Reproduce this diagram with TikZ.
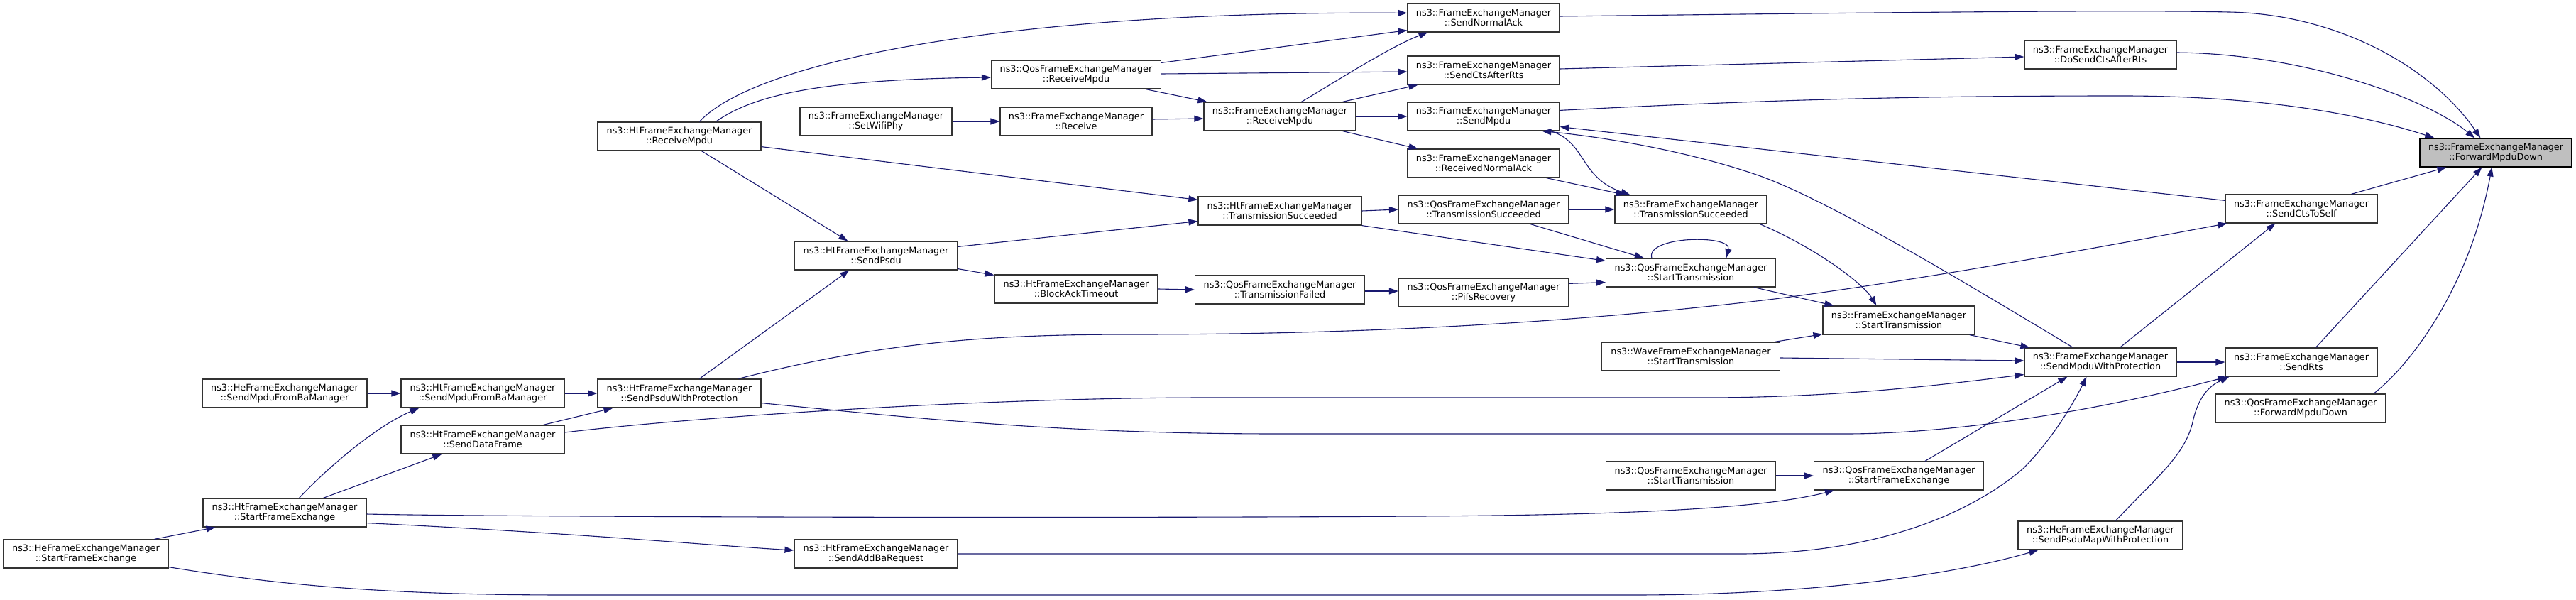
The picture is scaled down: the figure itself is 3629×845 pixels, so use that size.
\documentclass[tikz,border=0pt]{standalone}
\usepackage{fontspec}
\setmainfont{DejaVu Sans}
\usetikzlibrary{arrows.meta,calc}
\definecolor{midnightblue}{RGB}{25,25,112}
\definecolor{rootgray}{RGB}{191,191,191}
\begin{document}
\begin{tikzpicture}[x=1pt,y=-1pt,
  box/.style={draw=black!80, fill=white, line width=1.2pt, align=center, inner sep=0pt,
    minimum height=40pt, font=\fontsize{12.8}{14}\selectfont},
  edge/.style={draw=midnightblue, line width=1.1pt, -{Triangle[length=13pt,width=9pt]}}]
\fill[white] (0,0) rectangle (3629,845);
\useasboundingbox (0,0) rectangle (3629,845);
% nodes
\node[box, minimum width=214pt, fill=rootgray, draw=black] (fmd) at (3516,215) {ns3::FrameExchangeManager\\::ForwardMpduDown};
\node[box, minimum width=214pt] (sendctstoself) at (3242,294) {ns3::FrameExchangeManager\\::SendCtsToSelf};
\node[box, minimum width=214pt] (sendrts) at (3242,510) {ns3::FrameExchangeManager\\::SendRts};
\node[box, minimum width=239pt] (qosfwd) at (3241,575) {ns3::QosFrameExchangeManager\\::ForwardMpduDown};
\node[box, minimum width=214pt] (dosendcts) at (2959,77) {ns3::FrameExchangeManager\\::DoSendCtsAfterRts};
\node[box, minimum width=214pt] (smwp) at (2959,510) {ns3::FrameExchangeManager\\::SendMpduWithProtection};
\node[box, minimum width=232pt] (hepsdumap) at (2959,754) {ns3::HeFrameExchangeManager\\::SendPsduMapWithProtection};
\node[box, minimum width=214pt] (femstart) at (2675,451) {ns3::FrameExchangeManager\\::StartTransmission};
\node[box, minimum width=239pt] (qossfe) at (2675,670) {ns3::QosFrameExchangeManager\\::StartFrameExchange};
\node[box, minimum width=214pt] (femts) at (2382,295) {ns3::FrameExchangeManager\\::TransmissionSucceeded};
\node[box, minimum width=239pt] (qosstart) at (2382,384) {ns3::QosFrameExchangeManager\\::StartTransmission};
\node[box, minimum width=251pt] (wave) at (2382,502) {ns3::WaveFrameExchangeManager\\::StartTransmission};
\node[box, minimum width=239pt] (qosstart2) at (2382,670) {ns3::QosFrameExchangeManager\\::StartTransmission};
\node[box, minimum width=214pt] (sendnormalack) at (2090,25) {ns3::FrameExchangeManager\\::SendNormalAck};
\node[box, minimum width=214pt] (sendctsafterrts) at (2090,99) {ns3::FrameExchangeManager\\::SendCtsAfterRts};
\node[box, minimum width=214pt] (sendmpdu) at (2090,164) {ns3::FrameExchangeManager\\::SendMpdu};
\node[box, minimum width=214pt] (receivednormalack) at (2090,230) {ns3::FrameExchangeManager\\::ReceivedNormalAck};
\node[box, minimum width=239pt] (qosts) at (2090,295) {ns3::QosFrameExchangeManager\\::TransmissionSucceeded};
\node[box, minimum width=239pt] (qospifs) at (2090,412) {ns3::QosFrameExchangeManager\\::PifsRecovery};
\node[box, minimum width=214pt] (femreceivempdu) at (1803,164) {ns3::FrameExchangeManager\\::ReceiveMpdu};
\node[box, minimum width=230pt] (htts) at (1803,297) {ns3::HtFrameExchangeManager\\::TransmissionSucceeded};
\node[box, minimum width=239pt] (qostf) at (1803,408) {ns3::QosFrameExchangeManager\\::TransmissionFailed};
\node[box, minimum width=239pt] (qosreceivempdu) at (1516,105) {ns3::QosFrameExchangeManager\\::ReceiveMpdu};
\node[box, minimum width=214pt] (femreceive) at (1516,171) {ns3::FrameExchangeManager\\::Receive};
\node[box, minimum width=230pt] (htblockack) at (1516,407) {ns3::HtFrameExchangeManager\\::BlockAckTimeout};
\node[box, minimum width=214pt] (setwifiphy) at (1234,171) {ns3::FrameExchangeManager\\::SetWifiPhy};
\node[box, minimum width=230pt] (htsendpsdu) at (1234,360) {ns3::HtFrameExchangeManager\\::SendPsdu};
\node[box, minimum width=230pt] (htaddba) at (1234,780) {ns3::HtFrameExchangeManager\\::SendAddBaRequest};
\node[box, minimum width=230pt] (htreceivempdu) at (957,192) {ns3::HtFrameExchangeManager\\::ReceiveMpdu};
\node[box, minimum width=230pt] (htspwp) at (957,554) {ns3::HtFrameExchangeManager\\::SendPsduWithProtection};
\node[box, minimum width=230pt] (htmpduba) at (680,554) {ns3::HtFrameExchangeManager\\::SendMpduFromBaManager};
\node[box, minimum width=230pt] (htdataframe) at (680,619) {ns3::HtFrameExchangeManager\\::SendDataFrame};
\node[box, minimum width=232pt] (hempduba) at (401,554) {ns3::HeFrameExchangeManager\\::SendMpduFromBaManager};
\node[box, minimum width=230pt] (htsfe) at (401,722) {ns3::HtFrameExchangeManager\\::StartFrameExchange};
\node[box, minimum width=232pt] (hesfe) at (121,780) {ns3::HeFrameExchangeManager\\::StartFrameExchange};
% edges into ForwardMpduDown
\draw[edge] ($(sendnormalack.east)+(0,-2)$) .. controls (2700,17) and (3000,14) .. (3140,17) .. controls (3300,20) and (3430,100) .. ($(fmd.north west)+(86,0)$);
\draw[edge] ($(dosendcts.east)+(0,-3)$) .. controls (3250,76) and (3420,140) .. ($(fmd.north west)+(78,0)$);
\draw[edge] ($(sendmpdu.north east)+(0,12)$) .. controls (2500,140) and (2700,135) .. (2990,135) .. controls (3200,135) and (3340,165) .. ($(fmd.north west)+(21,0)$);
\draw[edge] ($(sendctstoself.north west)+(178,0)$) -- ($(fmd.south west)+(38,0)$);
\draw[edge] ($(sendrts.north west)+(128,0)$) -- ($(fmd.south west)+(88,0)$);
\draw[edge] ($(qosfwd.north west)+(223,0)$) .. controls (3400,510) and (3480,400) .. ($(fmd.south west)+(102,0)$);
% other edges
\draw[edge] ($(sendctsafterrts.east)+(0,-2)$) -- ($(dosendcts.west)+(0,3)$);
\draw[edge] ($(qosreceivempdu.north east)+(0,4)$) -- ($(sendnormalack.south west)+(0,-3)$);
\draw[edge] ($(htreceivempdu.north west)+(144,0)$) .. controls (1060,90) and (1400,15) .. ($(sendnormalack.north west)+(0,14)$);
\draw[edge] ($(htreceivempdu.north west)+(167,0)$) .. controls (1060,135) and (1150,112) .. ($(qosreceivempdu.west)+(0,4)$);
\draw[edge] ($(qosreceivempdu.east)+(0,-1)$) -- ($(sendctsafterrts.west)+(0,2)$);
\draw[edge] ($(qosreceivempdu.south west)+(218,0)$) -- ($(femreceivempdu.north west)+(5,0)$);
\draw[edge] ($(femreceive.east)+(0,-3)$) -- ($(femreceivempdu.west)+(0,3)$);
\draw[edge] (setwifiphy.east) -- (femreceive.west);
\draw[edge] ($(femreceivempdu.north west)+(138,0)$) .. controls (1890,110) and (1960,65) .. ($(sendnormalack.south west)+(29,0)$);
\draw[edge] ($(femreceivempdu.north west)+(196,0)$) -- ($(sendctsafterrts.south west)+(15,0)$);
\draw[edge] (femreceivempdu.east) -- (sendmpdu.west);
\draw[edge] ($(femreceivempdu.south west)+(196,0)$) -- ($(receivednormalack.north west)+(15,0)$);
\draw[edge] ($(receivednormalack.south west)+(196,0)$) -- ($(femts.north west)+(15,0)$);
\draw[edge] ($(sendmpdu.south west)+(202,0)$) .. controls (2235,200) and (2225,250) .. ($(femts.north west)+(22,0)$);
\draw[edge] ($(smwp.north west)+(69,0)$) .. controls (2780,405) and (2580,284) .. (2480,248) .. controls (2380,213) and (2260,193) .. ($(sendmpdu.south west)+(190,0)$);
\draw[edge] ($(sendctstoself.north west)+(0,9)$) -- ($(sendmpdu.south east)+(0,-6)$);
\draw[edge] ($(femts.south west)+(205,0)$) .. controls (2560,350) and (2625,400) .. ($(femstart.north west)+(76,0)$);
\draw[edge] ($(qosstart.south west)+(209,0)$) -- ($(femstart.north west)+(16,0)$);
\draw[edge] ($(qosstart.north west)+(65,0)$) .. controls (2318,332) and (2440,330) .. ($(qosstart.north west)+(170,0)$);
\draw[edge] (qosts.east) -- (femts.west);
\draw[edge] ($(qosts.south west)+(186,0)$) -- ($(qosstart.north west)+(54,0)$);
\draw[edge] (htts.east) -- (qosts.west);
\draw[edge] (htts.south east) -- ($(qosstart.north west)+(0,4)$);
\draw[edge] ($(qospifs.north east)+(0,8)$) -- ($(qosstart.south west)+(0,-7)$);
\draw[edge] ($(qostf.east)+(0,2)$) -- ($(qospifs.west)+(0,-2)$);
\draw[edge] (htblockack.east) -- (qostf.west);
\draw[edge] ($(htsendpsdu.south east)+(0,-2)$) -- ($(htblockack.north west)+(0,1)$);
\draw[edge] ($(htsendpsdu.north east)+(0,8)$) -- ($(htts.south west)+(0,-6)$);
\draw[edge] ($(htreceivempdu.south east)+(0,-6)$) -- ($(htts.north west)+(0,5)$);
\draw[edge] ($(htreceivempdu.south west)+(147,0)$) -- ($(htsendpsdu.north west)+(76,0)$);
\draw[edge] ($(htspwp.north west)+(144,0)$) -- ($(htsendpsdu.south west)+(78,0)$);
\draw[edge] ($(htspwp.north west)+(199,0)$) .. controls (1250,480) and (1400,471) .. (1600,471) .. controls (2000,471) and (2300,445) .. (2500,421) .. controls (2700,395) and (2950,350) .. ($(sendctstoself.south west)+(3,0)$);
\draw[edge] ($(htspwp.south east)+(0,-7)$) .. controls (1300,590) and (1500,611) .. (1800,611) -- (2600,611) .. controls (2750,611) and (2950,580) .. ($(sendrts.south west)+(3,0)$);
\draw[edge] ($(htdataframe.east)+(0,-10)$) .. controls (1000,585) and (1400,560) .. (1700,560) -- (2400,560) .. controls (2600,560) and (2750,540) .. ($(smwp.south west)+(0,-3)$);
\draw[edge] ($(wave.east)+(0,2)$) -- ($(smwp.west)+(0,-2)$);
\draw[edge] ($(wave.north east)+(-8,0)$) -- ($(femstart.south west)+(0,-1)$);
\draw[edge] ($(femstart.south east)+(-8,0)$) -- ($(smwp.north west)+(8,0)$);
\draw[edge] ($(qossfe.north west)+(157,0)$) -- ($(smwp.south west)+(61,0)$);
\draw[edge] (htaddba.east) -- (2450,780) .. controls (2650,780) and (2780,720) .. (2850,660) .. controls (2890,620) and (2920,570) .. ($(smwp.south west)+(88,0)$);
\draw[edge] (qosstart2.east) -- (qossfe.west);
\draw[edge] ($(htsfe.east)+(0,2)$) .. controls (700,728) and (1500,730) .. (2000,727) .. controls (2350,725) and (2500,712) .. ($(qossfe.south west)+(29,0)$);
\draw[edge] ($(htsfe.south east)+(0,-6)$) .. controls (800,750) and (1000,768) .. ($(htaddba.west)+(0,-5)$);
\draw[edge] ($(hesfe.north west)+(213,0)$) -- ($(htsfe.south west)+(18,0)$);
\draw[edge] ($(hesfe.south east)+(0,-2)$) .. controls (400,825) and (550,838) .. (800,838) -- (2300,838) .. controls (2550,838) and (2750,810) .. ($(hepsdumap.south west)+(29,0)$);
\draw[edge] ($(hepsdumap.north west)+(138,0)$) .. controls (3040,670) and (3080,640) .. (3090,590) .. controls (3100,550) and (3120,540) .. ($(sendrts.south west)+(6,0)$);
\draw[edge] ($(smwp.north west)+(135,0)$) -- ($(sendctstoself.south west)+(71,0)$);
\draw[edge] (smwp.east) -- (sendrts.west);
\draw[edge] (hempduba.east) -- (htmpduba.west);
\draw[edge] (htmpduba.east) -- (htspwp.west);
\draw[edge] ($(htdataframe.north west)+(201,0)$) -- ($(htspwp.south west)+(22,0)$);
\draw[edge] ($(htsfe.north west)+(136,0)$) .. controls (460,660) and (530,600) .. ($(htmpduba.south west)+(26,0)$);
\draw[edge] ($(htsfe.north west)+(170,0)$) -- ($(htdataframe.south west)+(58,0)$);
\end{tikzpicture}
\end{document}
